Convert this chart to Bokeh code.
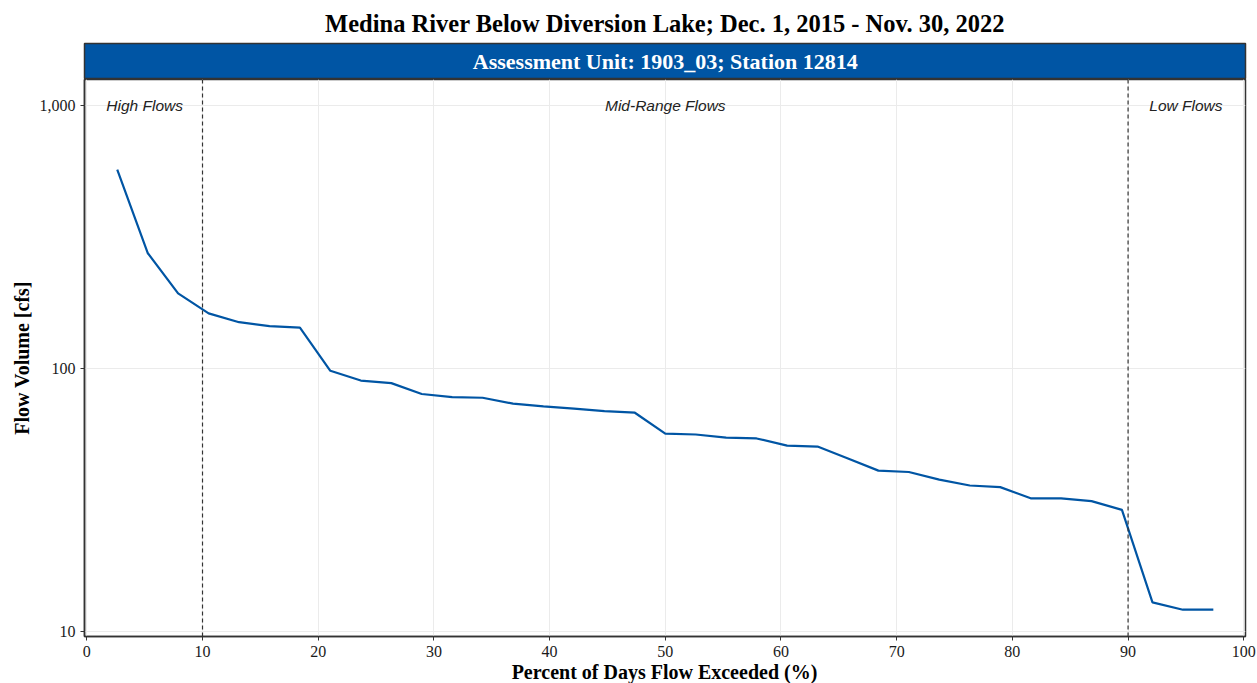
from bokeh.plotting import figure
from bokeh.layouts import column
from bokeh.models import (Range1d, FixedTicker, NumeralTickFormatter, Span, Label, Div)
from bokeh.embed import file_html
from bokeh.resources import INLINE

# ---- data ----
pct_exceeded = [2.63, 5.26, 7.89, 10.53, 13.16, 15.79, 18.42, 21.05, 23.68, 26.32,
                28.95, 31.58, 34.21, 36.84, 39.47, 42.11, 44.74, 47.37, 50.0, 52.63,
                55.26, 57.89, 60.53, 63.16, 65.79, 68.42, 71.05, 73.68, 76.32, 78.95,
                81.58, 84.21, 86.84, 89.47, 92.11, 94.74, 97.37]
flow_cfs = [570, 275, 193, 162, 150, 145, 143, 98, 90, 88,
            80, 77.8, 77.4, 73.5, 71.8, 70.4, 68.9, 67.9, 56.5, 56.1,
            54.6, 54.2, 50.9, 50.5, 45.5, 40.9, 40.4, 37.8, 35.9, 35.4,
            32.1, 32.1, 31.3, 29.0, 12.9, 12.1, 12.1]
x_ticks = [0, 10, 20, 30, 40, 50, 60, 70, 80, 90, 100]
y_ticks = [10, 100, 1000]
zone_breaks = [10, 90]
zone_names = ["High Flows", "Mid-Range Flows", "Low Flows"]
zone_label_x = [5, 50, 95]
zone_label_y = 1000

title_text = "Medina River Below Diversion Lake; Dec. 1, 2015 - Nov. 30, 2022"
strip_text = "Assessment Unit: 1903_03; Station 12814"
x_label = "Percent of Days Flow Exceeded (%)"
y_label = "Flow Volume [cfs]"

BLUE = "#0055A4"
DARK = "#333333"
SERIF = "Liberation Serif"
SANS = "Liberation Sans"

W = 1257
x_range = Range1d(-0.2, 100.15)

# ---- strip + title figure ----
top = figure(width=W, height=79, x_range=x_range, y_range=Range1d(0, 1),
             toolbar_location=None, output_backend="svg",
             min_border_left=84, min_border_right=12, min_border_top=42,
             min_border_bottom=0)
top.axis.visible = False
top.grid.visible = False
top.background_fill_color = BLUE
top.outline_line_color = DARK
top.outline_line_width = 1.5
top.title.text = title_text
top.title.text_font = SERIF
top.title.text_font_size = "24.5px"
top.title.text_font_style = "bold"
top.title.text_color = "black"
top.title.align = "center"
top.title.offset = 0
top.title.standoff = 14
top.add_layout(Label(x=50, y=0.5, text=strip_text, text_align="center",
                     text_baseline="middle", text_color="white",
                     text_font=SERIF, text_font_size="22px",
                     text_font_style="bold"))

# ---- main figure ----
p = figure(width=W, height=586, x_range=x_range,
           y_range=Range1d(9.57, 1256), y_axis_type="log",
           toolbar_location=None, output_backend="svg",
           min_border_left=84, min_border_right=12, min_border_top=0,
           min_border_bottom=29)
p.outline_line_color = DARK
p.outline_line_width = 1.5
p.background_fill_color = "white"

p.xaxis.ticker = FixedTicker(ticks=x_ticks, minor_ticks=[])
p.yaxis.ticker = FixedTicker(ticks=y_ticks, minor_ticks=[])
p.yaxis.formatter = NumeralTickFormatter(format="0,0")

for ax in (p.xaxis, p.yaxis):
    ax.axis_line_color = DARK
    ax.axis_line_width = 1.5
    ax.major_tick_line_color = DARK
    ax.major_tick_out = 4
    ax.major_tick_in = 0
    ax.minor_tick_line_color = None
    ax.major_label_text_font = SERIF
    ax.major_label_text_font_size = "16px"
    ax.major_label_text_color = "#1a1a1a"
    ax.axis_label_text_font = SERIF
    ax.axis_label_text_font_size = "20px"
    ax.axis_label_text_font_style = "bold"
    ax.axis_label_text_color = "black"

p.yaxis.axis_label = y_label
p.xaxis.major_label_standoff = 5
p.yaxis.major_label_standoff = 5
p.yaxis.axis_label_standoff = 4

p.grid.grid_line_color = "#EBEBEB"
p.grid.grid_line_width = 1

for b in zone_breaks:
    p.add_layout(Span(location=b, dimension="height", line_color=DARK,
                      line_dash="4 3", line_width=1.2))

for name, lx in zip(zone_names, zone_label_x):
    p.add_layout(Label(x=lx, y=zone_label_y, text=name, text_align="center",
                       text_baseline="middle", text_font=SANS,
                       text_font_size="15.5px", text_font_style="italic",
                       text_color="#222222"))

p.line(pct_exceeded, flow_cfs, line_color=BLUE, line_width=2.2)

# ---- x-axis title, centred under the plotting frame ----
xlab = Div(text=x_label, width=W, height=18, margin=(0, 0, 0, 0),
           styles={"font-family": SERIF, "font-weight": "bold",
                   "font-size": "20px", "line-height": "14px",
                   "color": "black", "text-align": "center",
                   "padding-left": "84px", "padding-right": "12px",
                   "box-sizing": "border-box", "overflow": "visible",
                   "white-space": "nowrap"})

layout = column(top, p, xlab, spacing=0)
open("out.html", "w").write(file_html(layout, INLINE))
